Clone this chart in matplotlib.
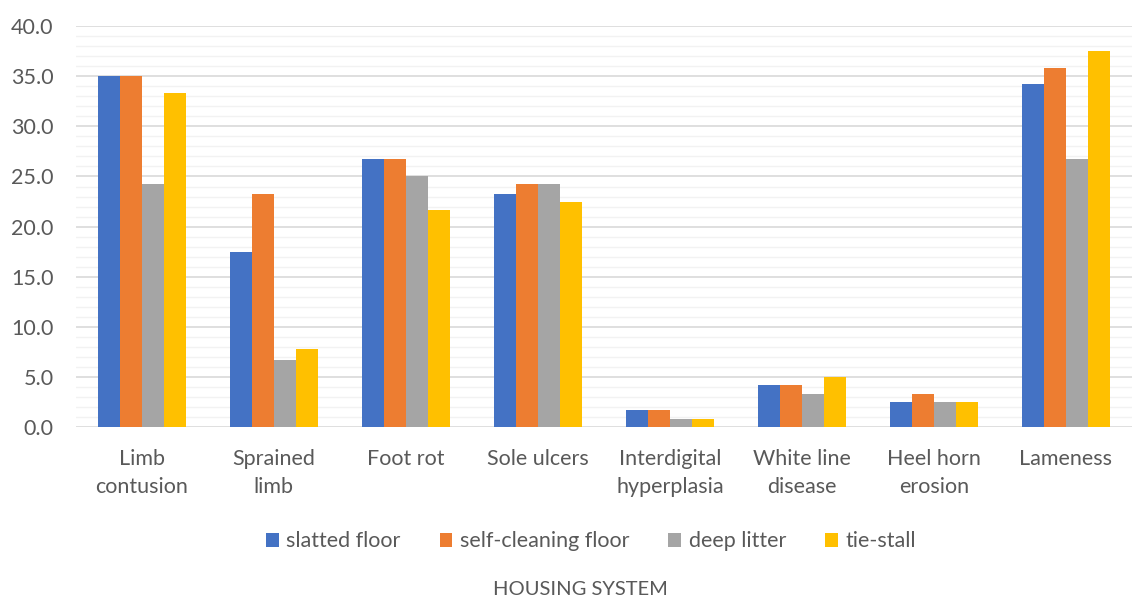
import matplotlib
matplotlib.use("Agg")
import matplotlib.pyplot as plt
import numpy as np

plt.rcParams["font.family"] = ["Lato", "DejaVu Sans"]

categories = ["Limb\ncontusion", "Sprained\nlimb", "Foot rot", "Sole ulcers",
              "Interdigital\nhyperplasia", "White line\ndisease", "Heel horn\nerosion",
              "Lameness"]
series_names = ["slatted floor", "self-cleaning floor", "deep litter", "tie-stall"]
slatted = [35.0, 17.5, 26.7, 23.3, 1.7, 4.2, 2.5, 34.2]
self_cleaning = [35.0, 23.3, 26.7, 24.2, 1.7, 4.2, 3.3, 35.8]
deep_litter = [24.2, 6.7, 25.0, 24.2, 0.8, 3.3, 2.5, 26.7]
tie_stall = [33.3, 7.8, 21.7, 22.5, 0.8, 5.0, 2.5, 37.5]
colors = ["#4472c4", "#ed7d31", "#a5a5a5", "#ffc000"]

TXT = "#595959"

fig = plt.figure(figsize=(11.32, 5.97), dpi=100)
ax = fig.add_axes([0.067, 0.285, 0.933, 0.671])

x = np.arange(len(categories))
w = 0.167
for i, (vals, name, c) in enumerate(zip([slatted, self_cleaning, deep_litter, tie_stall],
                                        series_names, colors)):
    ax.bar(x + (i - 1.5) * w, vals, w, color=c, label=name, zorder=3, linewidth=0)

ax.set_ylim(0, 40)
ax.set_xlim(-0.5, len(categories) - 0.5)
ax.set_yticks(np.arange(0, 41, 5))
ax.set_yticklabels([f"{v:.1f}" for v in np.arange(0, 41, 5)])
ax.set_yticks(np.arange(0, 41, 1), minor=True)
ax.grid(axis="y", which="major", color="#d9d9d9", linewidth=1.2, zorder=0)
ax.grid(axis="y", which="minor", color="#f2f2f2", linewidth=1.0, zorder=0)
ax.set_xticks(x)
ax.set_xticklabels(categories, linespacing=1.5)
ax.tick_params(axis="both", which="both", length=0, labelsize=15.5, colors=TXT)
ax.tick_params(axis="x", pad=16)
ax.tick_params(axis="y", pad=16)
for s in ax.spines.values():
    s.set_visible(False)

fig.legend(loc="center", bbox_to_anchor=(0.522, 0.093), ncol=4, frameon=False,
           fontsize=15.5, labelcolor=TXT, handlelength=0.6, handleheight=0.6,
           handletextpad=0.35, columnspacing=1.8)
fig.text(0.513, 0.003, "HOUSING SYSTEM", ha="center", va="baseline", fontsize=14.5, color=TXT)

fig.savefig("out.png", dpi=100)
